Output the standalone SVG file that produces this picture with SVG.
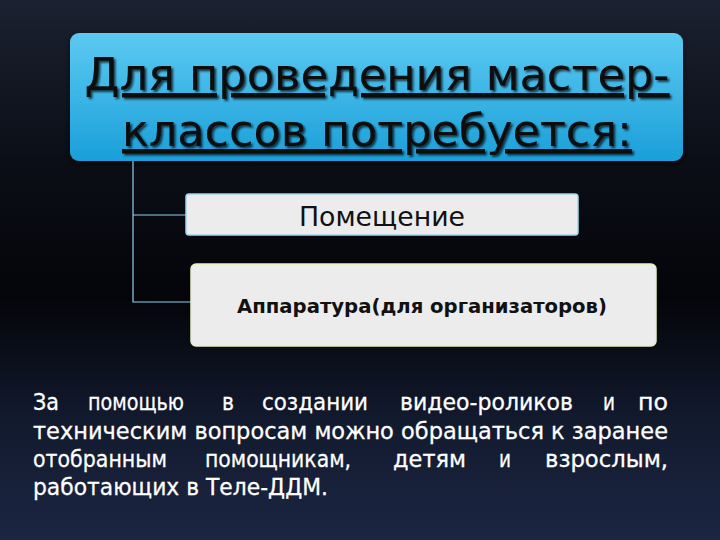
<svg xmlns="http://www.w3.org/2000/svg" width="720" height="540" viewBox="0 0 720 540">
<defs>
<linearGradient id="bg" x1="0" y1="0" x2="0" y2="1">
<stop offset="0" stop-color="#1b2130"/>
<stop offset="0.3" stop-color="#0b0e16"/>
<stop offset="0.55" stop-color="#040509"/>
<stop offset="0.78" stop-color="#121a2e"/>
<stop offset="1" stop-color="#1c2642"/>
</linearGradient>
<linearGradient id="tb" x1="0" y1="0" x2="0" y2="1">
<stop offset="0" stop-color="#5ccaf2"/>
<stop offset="1" stop-color="#1a9fd9"/>
</linearGradient>
<filter id="sh" x="-5%" y="-20%" width="110%" height="140%">
<feDropShadow dx="2" dy="2" stdDeviation="0.8" flood-color="#000" flood-opacity="0.7"/>
</filter>
<filter id="bs" x="-5%" y="-10%" width="110%" height="130%">
<feDropShadow dx="0" dy="3" stdDeviation="3" flood-color="#000" flood-opacity="0.6"/>
</filter>
<style>
.ttl{font-family:"DejaVu Sans Condensed","DejaVu Sans",sans-serif;font-size:44px;fill:#0a0a0a;text-decoration:underline;text-anchor:middle}
.box{fill:#ececec;stroke:#9fd6ee;stroke-width:1.5}
.con{fill:none;stroke:#8fcff0;stroke-width:1.2}
.bt{font-family:"DejaVu Sans","Liberation Sans",sans-serif;font-size:23px;fill:#ffffff;stroke:#ffffff;stroke-width:0.3}
</style>
</defs>
<rect x="0" y="0" width="720" height="540" fill="url(#bg)"/>
<g id="title">
<rect x="70" y="33" width="613" height="128" rx="9" fill="url(#tb)" filter="url(#bs)"/>
<g filter="url(#sh)">
<text class="ttl" x="377" y="90" textLength="585" lengthAdjust="spacingAndGlyphs">Для проведения мастер-</text>
<text class="ttl" x="377" y="146" textLength="510" lengthAdjust="spacingAndGlyphs">классов потребуется:</text>
</g>
</g>
<g id="connectors">
<path class="con" d="M133,161 V302 H191 M133,215 H186"/>
</g>
<g id="room">
<rect class="box" x="186" y="194" width="392" height="41" rx="3"/>
<text x="382" y="226" text-anchor="middle" font-family="DejaVu Sans Condensed, DejaVu Sans, sans-serif" font-size="27" fill="#111" textLength="166" lengthAdjust="spacingAndGlyphs">Помещение</text>
</g>
<g id="equipment">
<rect class="box" x="191" y="264" width="465" height="82" rx="5" style="stroke:#e6efc0"/>
<text x="422" y="313" text-anchor="middle" font-family="DejaVu Sans, sans-serif" font-weight="bold" font-size="20" fill="#111" textLength="370" lengthAdjust="spacingAndGlyphs">Аппаратура(для организаторов)</text>
</g>
<g id="note">
<text class="bt" x="33" y="410" textLength="26" lengthAdjust="spacingAndGlyphs">За</text>
<text class="bt" x="88" y="410" textLength="96" lengthAdjust="spacingAndGlyphs">помощью</text>
<text class="bt" x="222" y="410" textLength="12" lengthAdjust="spacingAndGlyphs">в</text>
<text class="bt" x="262" y="410" textLength="106" lengthAdjust="spacingAndGlyphs">создании</text>
<text class="bt" x="400" y="410" textLength="173" lengthAdjust="spacingAndGlyphs">видео-роликов</text>
<text class="bt" x="603" y="410" textLength="12" lengthAdjust="spacingAndGlyphs">и</text>
<text class="bt" x="638" y="410" textLength="30" lengthAdjust="spacingAndGlyphs">по</text>
<text class="bt" x="33" y="439" textLength="635" lengthAdjust="spacingAndGlyphs">техническим вопросам можно обращаться к заранее</text>
<text class="bt" x="33" y="467" textLength="134" lengthAdjust="spacingAndGlyphs">отобранным</text>
<text class="bt" x="205" y="467" textLength="146" lengthAdjust="spacingAndGlyphs">помощникам,</text>
<text class="bt" x="393" y="467" textLength="73" lengthAdjust="spacingAndGlyphs">детям</text>
<text class="bt" x="499" y="467" textLength="12" lengthAdjust="spacingAndGlyphs">и</text>
<text class="bt" x="545" y="467" textLength="123" lengthAdjust="spacingAndGlyphs">взрослым,</text>
<text class="bt" x="33" y="495" textLength="295" lengthAdjust="spacingAndGlyphs">работающих в Теле-ДДМ.</text>
</g>
</svg>
